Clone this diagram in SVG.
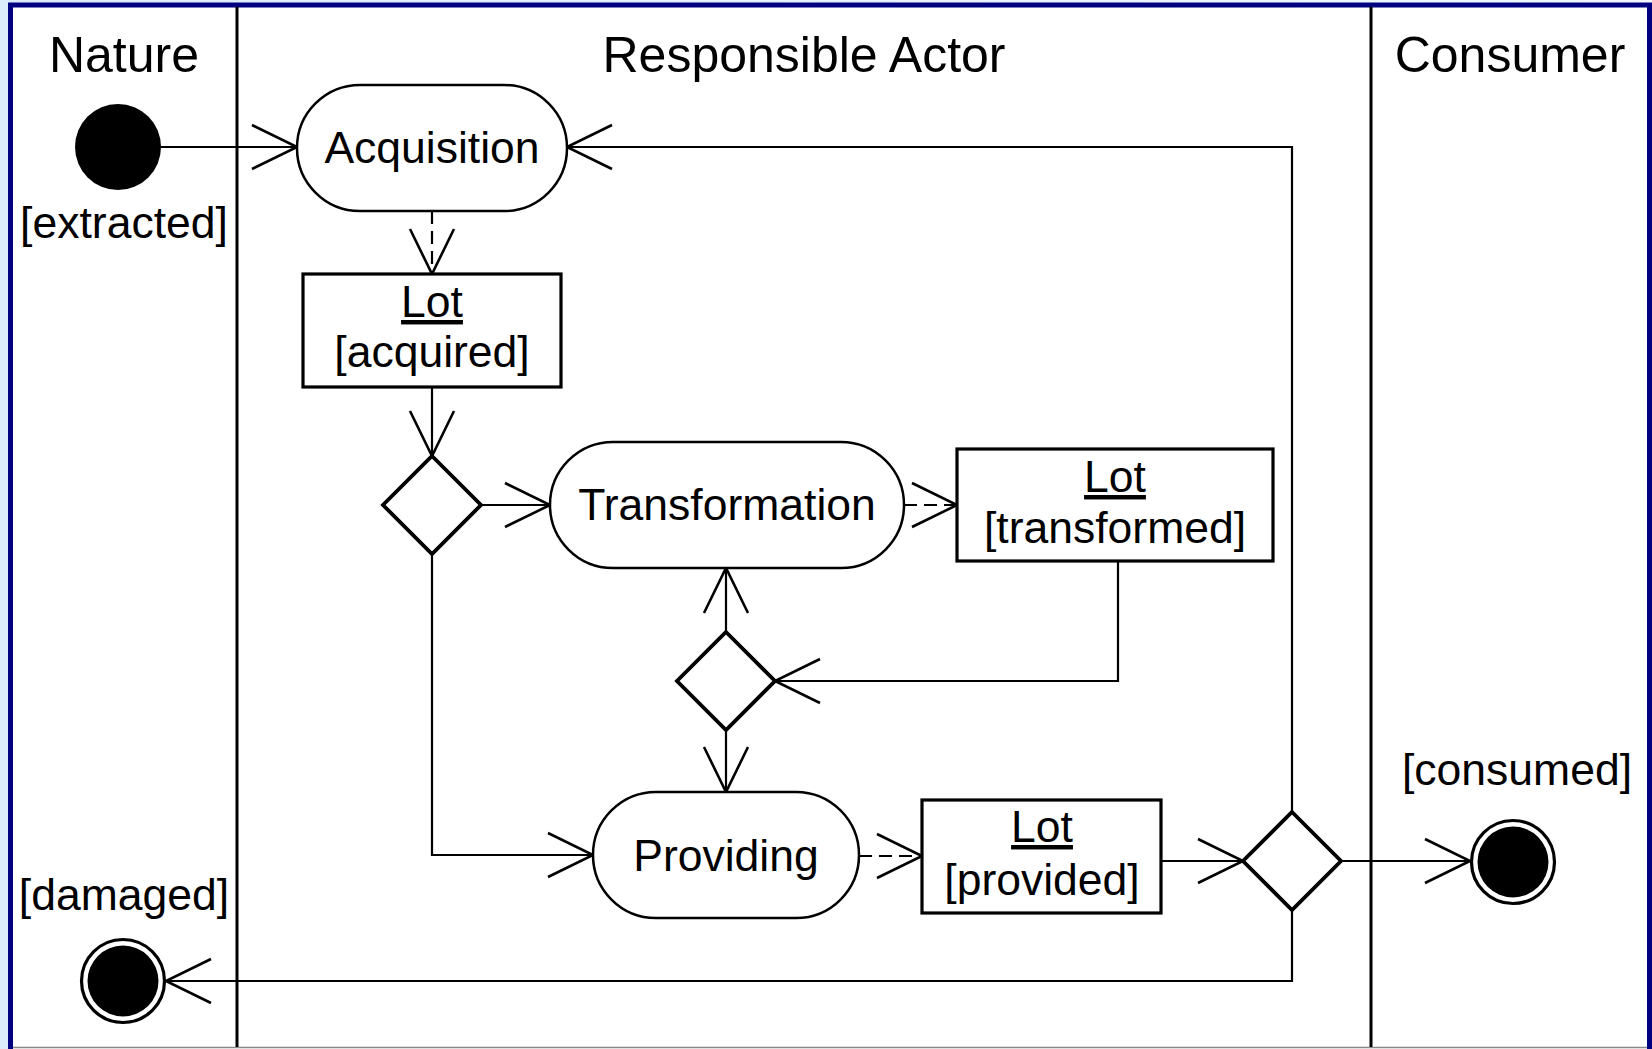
<svg xmlns="http://www.w3.org/2000/svg" width="1652" height="1049" viewBox="0 0 1652 1049">
  <style>
    text { font-family: "Liberation Sans", Arial, sans-serif; fill: #000; text-anchor: middle; }
    .hdr { font-size: 50px; }
    .lbl { font-size: 44.5px; }
    .lane { stroke: #000; stroke-width: 3; fill: none; }
    .action { fill: #fff; stroke: #000; stroke-width: 2.5; }
    .object { fill: #fff; stroke: #000; stroke-width: 3.2; }
    .decision { fill: #fff; stroke: #000; stroke-width: 3.8; stroke-linejoin: miter; }
    .flow { fill: none; stroke: #000; stroke-width: 2.2; marker-end: url(#open); }
    .dashed { stroke-dasharray: 13 7; }
  </style>
  <defs>
    <linearGradient id="bg" x1="0" y1="0" x2="1" y2="0">
      <stop offset="0" stop-color="#dcecfb"/>
      <stop offset="1" stop-color="#f2f8fe"/>
    </linearGradient>
    <marker id="open" markerUnits="userSpaceOnUse" markerWidth="60" markerHeight="60" viewBox="-50 -30 60 60" refX="0" refY="0" orient="auto" overflow="visible">
      <path d="M-45,-22 L0,0 L-45,22" fill="none" stroke="#000" stroke-width="2.6" stroke-dasharray="none"/>
    </marker>
  </defs>

  <!-- backdrop and frame -->
  <rect x="0" y="0" width="1652" height="1049" fill="url(#bg)"/>
  <rect x="10.5" y="5" width="1639" height="1050" fill="#fff" stroke="#000080" stroke-width="5"/>
  <line x1="13" y1="1047.5" x2="1647" y2="1047.5" stroke="#888" stroke-width="1.5"/>

  <!-- swimlanes -->
  <g id="lanes">
    <line class="lane" x1="237" y1="7" x2="237" y2="1047"/>
    <line class="lane" x1="1371" y1="7" x2="1371" y2="1047"/>
    <text class="hdr" x="124" y="72">Nature</text>
    <text class="hdr" x="804" y="72">Responsible Actor</text>
    <text class="hdr" x="1510" y="72">Consumer</text>
  </g>

  <!-- connectors -->
  <g id="connectors">
    <path class="flow" d="M161,147 H297"/>
    <path class="flow dashed" d="M432,211 V274"/>
    <path class="flow" d="M432,387 V456"/>
    <path class="flow" d="M481,505 H550"/>
    <path class="flow dashed" d="M904,505 H957"/>
    <path class="flow" d="M1118,561 V681 H775"/>
    <path class="flow" d="M726,632 V568"/>
    <path class="flow" d="M726,730 V792"/>
    <path class="flow" d="M432,554 V855 H593"/>
    <path class="flow dashed" d="M859,856 H922"/>
    <path class="flow" d="M1161,861 H1243"/>
    <path class="flow" d="M1292,812 V147 H567"/>
    <path class="flow" d="M1341,861 H1470"/>
    <path class="flow" d="M1292,910 V981 H166"/>
  </g>

  <!-- nodes -->
  <g id="initial">
    <circle cx="118" cy="147" r="43" fill="#000"/>
    <text class="lbl" x="124" y="238">[extracted]</text>
  </g>

  <g id="acquisition">
    <rect class="action" x="297" y="85" width="270" height="126" rx="63" ry="63"/>
    <text class="lbl" x="432" y="163">Acquisition</text>
  </g>

  <g id="lot-acquired">
    <rect class="object" x="303" y="274" width="258" height="113"/>
    <text class="lbl" x="432" y="317" text-decoration="underline">Lot</text>
    <text class="lbl" x="432" y="367">[acquired]</text>
  </g>

  <g id="decision-acquired">
    <polygon class="decision" points="432,456 481,505 432,554 383,505"/>
  </g>

  <g id="transformation">
    <rect class="action" x="550" y="442" width="354" height="126" rx="63" ry="63"/>
    <text class="lbl" x="727" y="520">Transformation</text>
  </g>

  <g id="lot-transformed">
    <rect class="object" x="957" y="449" width="316" height="112"/>
    <text class="lbl" x="1115" y="492" text-decoration="underline">Lot</text>
    <text class="lbl" x="1115" y="543">[transformed]</text>
  </g>

  <g id="decision-transformed">
    <polygon class="decision" points="726,632 775,681 726,730 677,681"/>
  </g>

  <g id="providing">
    <rect class="action" x="593" y="792" width="266" height="126" rx="63" ry="63"/>
    <text class="lbl" x="726" y="871">Providing</text>
  </g>

  <g id="lot-provided">
    <rect class="object" x="922" y="800" width="239" height="113"/>
    <text class="lbl" x="1042" y="842" text-decoration="underline">Lot</text>
    <text class="lbl" x="1042" y="895">[provided]</text>
  </g>

  <g id="decision-provided">
    <polygon class="decision" points="1292,812 1341,861 1292,910 1243,861"/>
  </g>

  <g id="final-consumed">
    <circle cx="1513" cy="862" r="41.5" fill="#fff" stroke="#000" stroke-width="3.2"/>
    <circle cx="1513" cy="862" r="35.5" fill="#000"/>
    <text class="lbl" x="1517" y="785">[consumed]</text>
  </g>

  <g id="final-damaged">
    <circle cx="123" cy="981" r="41.5" fill="#fff" stroke="#000" stroke-width="3.2"/>
    <circle cx="123" cy="981" r="35.5" fill="#000"/>
    <text class="lbl" x="124" y="910">[damaged]</text>
  </g>
</svg>
